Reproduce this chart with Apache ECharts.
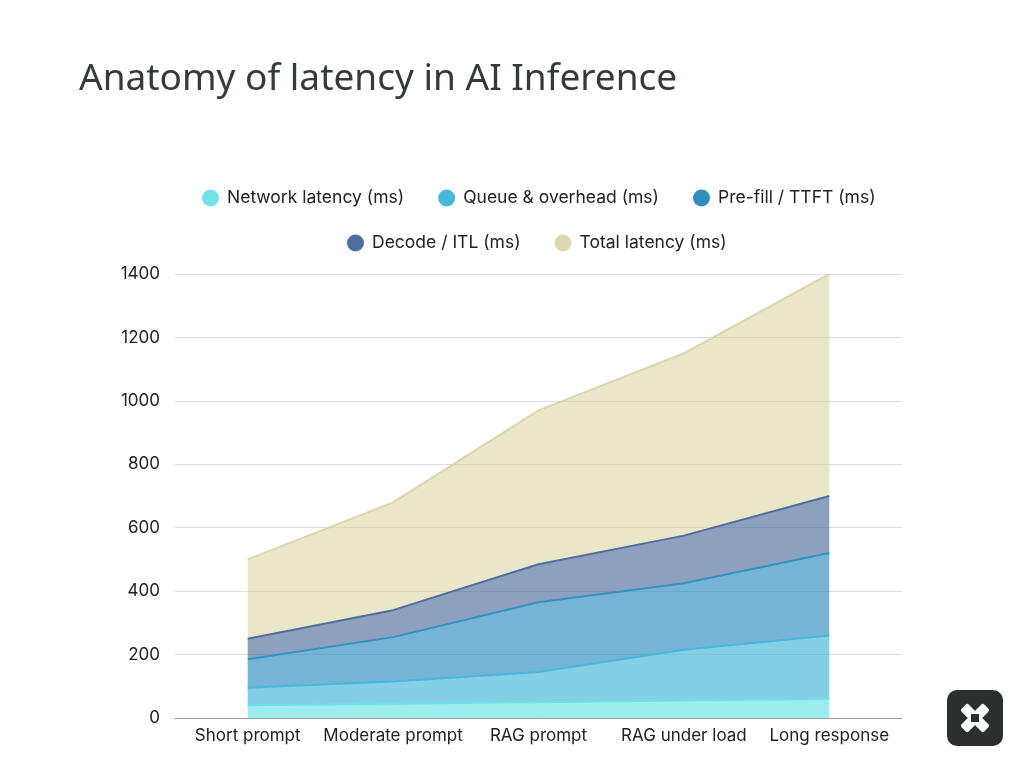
<!DOCTYPE html>
<html>
<head>
<meta charset="utf-8">
<script src="https://cdn.jsdelivr.net/npm/echarts@6/dist/echarts.min.js"></script>
<style>html,body{margin:0;padding:0;background:#fff}#c{width:1024px;height:768px}</style>
</head>
<body>
<div id="c"></div>
<script>
const categories = ['Short prompt', 'Moderate prompt', 'RAG prompt', 'RAG under load', 'Long response'];
const networkLatency = [40, 45, 50, 55, 60];
const queueOverhead = [55, 70, 95, 160, 200];
const prefillTTFT = [90, 140, 220, 210, 260];
const decodeITL = [65, 85, 120, 150, 180];
const totalLatency = [250, 340, 485, 575, 700];
const yTicks = [0, 200, 400, 600, 800, 1000, 1200, 1400];

const seriesDefs = [
  {name: 'Network latency (ms)', data: networkLatency, line: '#6fe2e8', fill: 'rgba(116,230,232,0.7)', legend: '#72e3ea'},
  {name: 'Queue & overhead (ms)', data: queueOverhead, line: '#46b8d8', fill: 'rgba(74,184,216,0.68)', legend: '#47b8d9'},
  {name: 'Pre-fill / TTFT (ms)', data: prefillTTFT, line: '#3590c2', fill: 'rgba(47,141,191,0.66)', legend: '#2f8dbf'},
  {name: 'Decode / ITL (ms)', data: decodeITL, line: '#4f6e9c', fill: 'rgba(80,110,156,0.65)', legend: '#506e9c'},
  {name: 'Total latency (ms)', data: totalLatency, line: '#dcd6ae', fill: 'rgba(220,213,166,0.6)', legend: '#dcd7b0'}
];

const chart = echarts.init(document.getElementById('c'), null, {renderer: 'canvas'});
const legendText = {fontFamily: 'Inter', fontSize: 17.5, color: '#222', padding: [0, 0, 0, 3]};
chart.setOption({
  backgroundColor: '#fff',
  animation: false,
  color: seriesDefs.map(s => s.legend),
  title: {
    text: 'Anatomy of latency in AI Inference',
    left: 74, top: 56,
    textStyle: {fontFamily: 'Noto Sans', fontWeight: 'normal', fontSize: 37, color: '#343a38'}
  },
  legend: [
    {data: seriesDefs.slice(0, 3).map(s => s.name), top: 184, left: 197, icon: 'circle',
     itemWidth: 17, itemHeight: 17, itemGap: 34, textStyle: legendText},
    {data: seriesDefs.slice(3).map(s => s.name), top: 229, left: 342, icon: 'circle',
     itemWidth: 17, itemHeight: 17, itemGap: 34, textStyle: legendText}
  ],
  grid: {left: 175, right: 122, top: 274, bottom: 50, containLabel: false},
  xAxis: {
    type: 'category', data: categories, boundaryGap: true,
    axisLine: {lineStyle: {color: '#999', width: 1}},
    axisTick: {show: false},
    axisLabel: {fontFamily: 'Inter', fontSize: 17, color: '#222', margin: 9, interval: 0}
  },
  yAxis: {
    type: 'value', min: yTicks[0], max: yTicks[yTicks.length - 1], interval: 200,
    axisLine: {show: false}, axisTick: {show: false},
    axisLabel: {fontFamily: 'Inter', fontSize: 17, color: '#222', margin: 15, formatter: v => String(v)},
    splitLine: {lineStyle: {color: '#dcdcdc', width: 1}}
  },
  series: seriesDefs.map(s => ({
    name: s.name, type: 'line', stack: 'total', data: s.data,
    symbol: 'none', smooth: false,
    lineStyle: {color: s.line, width: 2},
    itemStyle: {color: s.legend},
    areaStyle: {color: s.fill, opacity: 1}
  })),
  graphic: [
    {type: 'rect', left: 947, top: 690, shape: {width: 56, height: 56, r: 10}, style: {fill: '#2b2f2e'}},
    {type: 'rect', x: 975, y: 718, rotation: Math.PI / 4, shape: {x: -16, y: -5, width: 32, height: 10, r: 2}, style: {fill: '#fff'}},
    {type: 'rect', x: 975, y: 718, rotation: -Math.PI / 4, shape: {x: -16, y: -5, width: 32, height: 10, r: 2}, style: {fill: '#fff'}},
    {type: 'rect', x: 975, y: 718, rotation: 0, shape: {x: -4, y: -4, width: 8, height: 8}, style: {fill: '#2b2f2e'}}
  ]
});
</script>
</body>
</html>
